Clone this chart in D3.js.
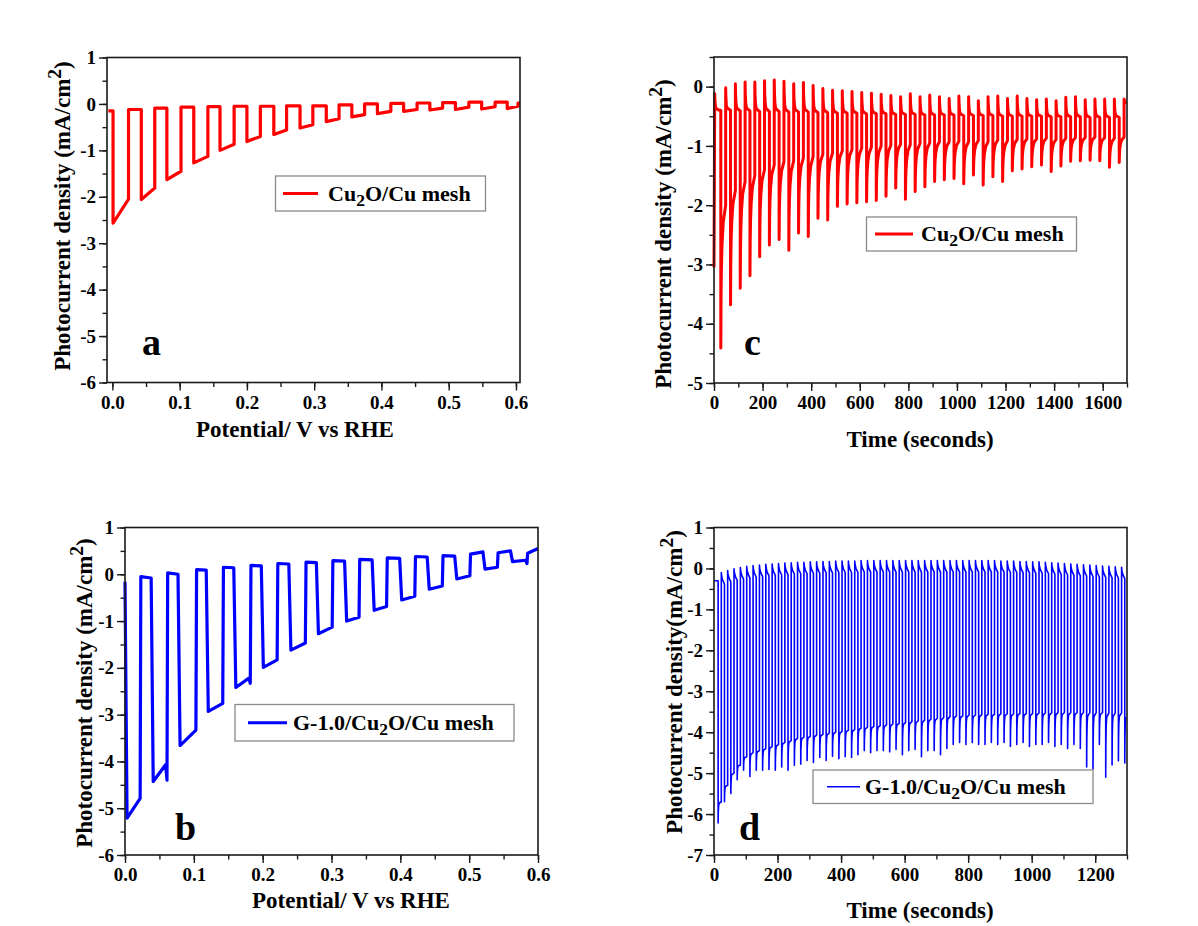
<!DOCTYPE html>
<meta charset="utf-8">
<style>
body { margin: 0; background: #fff; }
svg text { font-family: "Liberation Serif", "Times New Roman", serif; font-weight: bold; fill: #000; }
.tick text { font-size: 19px; }
.tick line { stroke: #1a1a1a; stroke-width: 1.4px; }
.frame { fill: none; stroke: #1a1a1a; stroke-width: 1.6px; }
.legend-box { fill: #fff; stroke: #8a8a8a; stroke-width: 1.3px; }
.title { font-size: 23px; }
.letter { font-size: 38px; }
.legend-text { font-size: 22px; }
</style>
<svg width="1198" height="926"></svg>
<script src="https://d3js.org/d3.v7.min.js"></script>
<script>
// ---- panel a : Cu2O/Cu mesh, chopped LSV ----
var aRange = [-0.006, 0.606];
var aOnV = [0.001, 0.043, 0.081, 0.121, 0.160, 0.200, 0.240, 0.279, 0.318, 0.356, 0.394, 0.433, 0.472, 0.510, 0.549, 0.587];
var aOffV = [0.024, 0.063, 0.102, 0.142, 0.181, 0.220, 0.259, 0.298, 0.337, 0.375, 0.414, 0.453, 0.491, 0.530, 0.569, 0.603];
var aOnStart = [-2.57, -2.06, -1.63, -1.27, -1.00, -0.81, -0.66, -0.52, -0.38, -0.28, -0.21, -0.16, -0.13, -0.12, -0.11, -0.10];
var aOnEnd = [-2.05, -1.81, -1.45, -1.13, -0.87, -0.70, -0.56, -0.45, -0.32, -0.23, -0.16, -0.12, -0.09, -0.07, -0.06, -0.05];
var aDark = [-0.15, -0.12, -0.09, -0.07, -0.06, -0.05, -0.05, -0.04, -0.04, -0.02, 0.00, 0.01, 0.02, 0.03, 0.04, 0.04, 0.02];

// ---- panel b : G-1.0/Cu2O/Cu mesh, chopped LSV ----
var bRange = [0, 0.6];
var bOnV = [0.003, 0.041, 0.080, 0.121, 0.161, 0.201, 0.241, 0.281, 0.322, 0.362, 0.402, 0.442, 0.482, 0.523, 0.563];
var bOffV = [0.022, 0.061, 0.103, 0.142, 0.182, 0.221, 0.262, 0.301, 0.340, 0.380, 0.421, 0.461, 0.501, 0.541, 0.584];
var bOnStart = [-5.21, -4.43, -3.66, -2.93, -2.42, -1.99, -1.62, -1.27, -1.00, -0.77, -0.55, -0.32, -0.10, 0.11, 0.27];
var bOnEnd = [-4.79, -4.07, -3.33, -2.76, -2.22, -1.83, -1.47, -1.13, -0.92, -0.69, -0.47, -0.25, -0.03, 0.15, 0.30];
var bSpike = [null, -4.40, null, null, -2.33, null, null, null, null, null, null, null, null, null, 0.23];
var bDarkStart = [-0.16, -0.05, 0.03, 0.10, 0.15, 0.19, 0.23, 0.26, 0.29, 0.32, 0.35, 0.38, 0.40, 0.43, 0.46, 0.45];
var bDarkEnd = [-0.16, -0.08, 0.00, 0.09, 0.14, 0.18, 0.22, 0.25, 0.28, 0.31, 0.34, 0.37, 0.39, 0.48, 0.50, 0.55];

// ---- panel c : Cu2O/Cu mesh, chopped i-t ----
var cFirstOn = 28, cPeriod = 40, cOnLength = 20, cEndT = 1694, cEndV = -0.30;
var cInit = [[0, -3.05], [3, -0.12]];
var cSpike = [-4.41, -3.68, -3.40, -3.19, -2.87, -2.67, -2.58, -2.76, -2.47, -2.53,
  -2.22, -2.25, -2.02, -1.98, -1.96, -1.94, -1.92, -1.85, -1.71, -1.90,
  -1.77, -1.69, -1.60, -1.57, -1.55, -1.64, -1.49, -1.66, -1.52, -1.60,
  -1.42, -1.39, -1.35, -1.32, -1.43, -1.34, -1.26, -1.25, -1.24, -1.25,
  -1.36, -1.28];
var cLight = [-2.00, -1.75, -1.60, -1.50, -1.40, -1.32, -1.27, -1.25, -1.20, -1.18,
  -1.14, -1.12, -1.08, -1.06, -1.04, -1.02, -1.00, -0.99, -0.97, -0.98,
  -0.96, -0.95, -0.93, -0.93, -0.92, -0.93, -0.91, -0.93, -0.90, -0.91,
  -0.89, -0.88, -0.88, -0.87, -0.89, -0.87, -0.86, -0.86, -0.85, -0.86,
  -0.87, -0.85];
var cPeak = [-0.02, 0.05, 0.08, 0.08, 0.10, 0.11, 0.09, 0.05, 0.07, 0.02,
  -0.03, -0.06, -0.07, -0.08, -0.10, -0.11, -0.13, -0.15, -0.17, -0.12,
  -0.17, -0.14, -0.17, -0.20, -0.16, -0.17, -0.24, -0.17, -0.16, -0.20,
  -0.16, -0.20, -0.22, -0.21, -0.24, -0.18, -0.17, -0.22, -0.21, -0.21,
  -0.21, -0.21];
var cDark = [-0.40, -0.40, -0.41, -0.41, -0.42, -0.42, -0.42, -0.43, -0.43, -0.43,
  -0.44, -0.44, -0.45, -0.45, -0.45, -0.46, -0.46, -0.46, -0.47, -0.47,
  -0.47, -0.48, -0.48, -0.48, -0.48, -0.49, -0.49, -0.49, -0.49, -0.50,
  -0.50, -0.50, -0.50, -0.50, -0.51, -0.51, -0.51, -0.51, -0.52, -0.52,
  -0.52, -0.52];
// transient shapes (seconds after switching, fraction of the step)
var cLightT = [0, 1, 2.5, 5, 10, 20], cLightF = [0, 0.35, 0.55, 0.72, 0.88, 1];
var cDarkT = [0, 1, 3, 6, 20], cDarkF = [0, 0.45, 0.75, 0.9, 1];

// ---- panel d : G-1.0/Cu2O/Cu mesh, chopped i-t ----
var dFirstOn = 13, dPeriod = 20, dOnLength = 10, dEndT = 1300, dInitLevel = -0.30;
var dSpike = [-6.22, -5.70, -5.50, -5.16, -4.93, -5.08, -4.93, -4.93, -4.91, -4.93,
  -4.85, -4.93, -4.81, -4.78, -4.69, -4.74, -4.62, -4.69, -4.59, -4.65,
  -4.60, -4.62, -4.55, -4.45, -4.50, -4.45, -4.45, -4.48, -4.42, -4.55,
  -4.45, -4.42, -4.60, -4.45, -4.45, -4.55, -4.40, -4.30, -4.25, -4.30,
  -4.25, -4.30, -4.30, -4.25, -4.30, -4.25, -4.35, -4.30, -4.25, -4.35,
  -4.30, -4.30, -4.25, -4.35, -4.30, -4.40, -4.30, -4.40, -4.85, -4.90,
  -4.30, -5.10, -4.80, -4.70, -4.75];
var dLight = [-5.70, -5.30, -5.00, -4.80, -4.60, -4.50, -4.45, -4.40, -4.35, -4.30,
  -4.25, -4.20, -4.15, -4.12, -4.10, -4.07, -4.05, -4.02, -4.00, -3.98,
  -3.95, -3.93, -3.90, -3.88, -3.86, -3.84, -3.82, -3.80, -3.78, -3.76,
  -3.74, -3.72, -3.70, -3.68, -3.66, -3.64, -3.62, -3.60, -3.60, -3.58,
  -3.58, -3.57, -3.56, -3.56, -3.55, -3.55, -3.55, -3.54, -3.54, -3.54,
  -3.53, -3.53, -3.53, -3.52, -3.52, -3.52, -3.52, -3.52, -3.52, -3.52,
  -3.52, -3.53, -3.53, -3.53, -3.54];
var dPeak = [-0.10, -0.05, -0.01, 0.02, 0.05, 0.07, 0.08, 0.10, 0.11, 0.12,
  0.13, 0.14, 0.15, 0.15, 0.16, 0.16, 0.17, 0.17, 0.18, 0.18,
  0.18, 0.18, 0.19, 0.19, 0.19, 0.19, 0.19, 0.19, 0.19, 0.19,
  0.19, 0.19, 0.19, 0.19, 0.19, 0.19, 0.19, 0.19, 0.19, 0.19,
  0.19, 0.19, 0.19, 0.19, 0.18, 0.18, 0.18, 0.17, 0.17, 0.16,
  0.16, 0.15, 0.14, 0.13, 0.12, 0.11, 0.10, 0.09, 0.08, 0.07,
  0.06, 0.05, 0.04, 0.03, 0.02];
var dDark = [-0.30, -0.38, -0.33, -0.29, -0.26, -0.23, -0.21, -0.20, -0.18, -0.17,
  -0.16, -0.15, -0.14, -0.13, -0.13, -0.12, -0.12, -0.11, -0.11, -0.10,
  -0.10, -0.10, -0.10, -0.09, -0.09, -0.09, -0.09, -0.09, -0.09, -0.09,
  -0.09, -0.09, -0.09, -0.09, -0.09, -0.09, -0.09, -0.09, -0.09, -0.09,
  -0.09, -0.09, -0.09, -0.09, -0.09, -0.09, -0.10, -0.10, -0.11, -0.11,
  -0.12, -0.12, -0.13, -0.14, -0.15, -0.16, -0.17, -0.18, -0.19, -0.20,
  -0.21, -0.22, -0.23, -0.24, -0.25];
var dLightT = [0, 0.5, 1.5, 3, 10], dLightF = [0, 0.5, 0.8, 0.93, 1];
var dDarkT = [0, 1, 4, 10], dDarkF = [0, 0.3, 0.65, 1];

var svg = d3.select("svg");

function seq(a, b, s) { return d3.range(Math.round((b - a) / s) + 1).map(function(i) { return +(a + i * s).toFixed(3); }); }

// shaped step from v0 to v1 starting at t0
function pushStep(pts, t0, v0, v1, ts, fs, tMax) {
  for (var j = 0; j < ts.length; j++) {
    if (t0 + ts[j] > tMax) break;
    pts.push([t0 + ts[j], v0 + fs[j] * (v1 - v0)]);
  }
}

// build traces
var aPts = [[aRange[0], aDark[0]]];
for (var i = 0; i < aOnV.length; i++) {
  aPts.push([aOnV[i], aDark[i]], [aOnV[i], aOnStart[i]], [aOffV[i], aOnEnd[i]], [aOffV[i], aDark[i + 1]]);
}
aPts.push([aRange[1], aDark[aDark.length - 1]]);

var bPts = [[bRange[0], bDarkStart[0]]];
for (var i = 0; i < bOnV.length; i++) {
  if (i > 0) bPts.push([bOnV[i] - 0.003, bDarkEnd[i]]);
  bPts.push([bOnV[i], bOnStart[i]]);
  if (bSpike[i] != null) {
    bPts.push([bOffV[i] - 0.002, bOnEnd[i]], [bOffV[i], bSpike[i]]);
  } else {
    bPts.push([bOffV[i], bOnEnd[i]]);
  }
  bPts.push([bOffV[i] + 0.001, bDarkStart[i + 1]]);
}
bPts.push([bRange[1], bDarkEnd[bDarkEnd.length - 1]]);

var cPts = cInit.slice();
pushStep(cPts, cInit[1][0], cInit[1][1], cDark[0], cDarkT, cDarkF, cFirstOn);
for (var k = 0; k < cSpike.length; k++) {
  var tOn = cFirstOn + k * cPeriod, tOff = tOn + cOnLength;
  cPts.push([tOn, cDark[k]]);
  pushStep(cPts, tOn, cSpike[k], cLight[k], cLightT, cLightF, cEndT);
  if (k + 1 < cSpike.length) {
    pushStep(cPts, tOff, cPeak[k], cDark[k + 1], cDarkT, cDarkF, cEndT);
  } else {
    cPts.push([tOff, cPeak[k]], [cEndT, cEndV]);
  }
}

var dPts = [[0, dInitLevel]];
for (var k = 0; k < dSpike.length; k++) {
  var tOn = dFirstOn + k * dPeriod, tOff = tOn + dOnLength;
  dPts.push([tOn, dDark[k]]);
  pushStep(dPts, tOn, dSpike[k], dLight[k], dLightT, dLightF, dEndT);
  if (tOff < dEndT && k + 1 < dSpike.length) {
    pushStep(dPts, tOff, dPeak[k], dDark[k + 1], dDarkT, dDarkF, dEndT);
  }
}

var panels = [
  { left: 107, right: 520, top: 57.5, bottom: 382.5,
    xDomain: [-0.008, 0.606], yDomain: [-6, 1],
    xTicks: seq(0, 0.6, 0.1), xMinor: seq(0, 0.6, 0.05), xFmt: d3.format(".1f"),
    yTicks: seq(-6, 1, 1), yMinor: seq(-6, 1, 0.5),
    pts: aPts, color: "#ff0000", width: 3.2,
    xTitle: "Potential/ V vs RHE", xTitleX: 295, xTitleY: 437,
    yTitle: "Photocurrent density (mA/cm", yTitleX: 70, yTitleY: 216,
    letter: "a", letterX: 142, letterY: 355,
    legend: { x: 275.5, y: 176, w: 210, h: 35, lx1: 283, lx2: 318, tx: 328,
      parts: ["Cu", "2", "O/Cu mesh"] } },
  { left: 125, right: 538, top: 527.5, bottom: 855,
    xDomain: [0, 0.6], yDomain: [-6, 1],
    xTicks: seq(0, 0.6, 0.1), xMinor: seq(0, 0.6, 0.05), xFmt: d3.format(".1f"),
    yTicks: seq(-6, 1, 1), yMinor: seq(-6, 1, 0.5),
    pts: bPts, color: "#0000ff", width: 3.2,
    xTitle: "Potential/ V vs RHE", xTitleX: 351, xTitleY: 908,
    yTitle: "Photocurrent density (mA/cm", yTitleX: 92, yTitleY: 693,
    letter: "b", letterX: 175, letterY: 840,
    legend: { x: 235, y: 704.5, w: 279, h: 36.5, lx1: 248, lx2: 287, tx: 293,
      parts: ["G-1.0/Cu", "2", "O/Cu mesh"] } },
  { left: 714, right: 1127, top: 57, bottom: 383,
    xDomain: [0, 1700], yDomain: [-5, 0.5],
    xTicks: seq(0, 1600, 200), xMinor: seq(0, 1700, 100), xFmt: d3.format("d"),
    yTicks: seq(-5, 0, 1), yMinor: seq(-5, 0.5, 0.5),
    pts: cPts, color: "#ff0000", width: 3,
    xTitle: "Time (seconds)", xTitleX: 920, xTitleY: 447,
    yTitle: "Photocurrent density (mA/cm", yTitleX: 671, yTitleY: 234,
    letter: "c", letterX: 744, letterY: 355,
    legend: { x: 866.5, y: 217, w: 210, h: 34, lx1: 875, lx2: 913, tx: 921,
      parts: ["Cu", "2", "O/Cu mesh"] } },
  { left: 714, right: 1127, top: 527.5, bottom: 855,
    xDomain: [0, 1300], yDomain: [-7, 1],
    xTicks: seq(0, 1200, 200), xMinor: seq(0, 1300, 100), xFmt: d3.format("d"),
    yTicks: seq(-7, 1, 1), yMinor: seq(-7, 1, 0.5),
    pts: dPts, color: "#0000ff", width: 1.6,
    xTitle: "Time (seconds)", xTitleX: 920, xTitleY: 918,
    yTitle: "Photocurrent density(mA/cm", yTitleX: 682, yTitleY: 682,
    letter: "d", letterX: 739, letterY: 840,
    legend: { x: 813, y: 770, w: 280, h: 33.5, lx1: 827, lx2: 860, tx: 865,
      parts: ["G-1.0/Cu", "2", "O/Cu mesh"] } }
];

panels.forEach(function(p) {
  var x = d3.scaleLinear().domain(p.xDomain).range([p.left, p.right]);
  var y = d3.scaleLinear().domain(p.yDomain).range([p.bottom, p.top]);
  var g = svg.append("g");

  // minor and major ticks, outward
  g.append("g").attr("transform", "translate(0," + p.bottom + ")")
    .call(d3.axisBottom(x).tickValues(p.xMinor).tickSize(4.5).tickFormat(""));
  g.append("g").attr("transform", "translate(0," + p.bottom + ")")
    .call(d3.axisBottom(x).tickValues(p.xTicks).tickSize(8).tickPadding(5).tickFormat(p.xFmt));
  g.append("g").attr("transform", "translate(" + p.left + ",0)")
    .call(d3.axisLeft(y).tickValues(p.yMinor).tickSize(4.5).tickFormat(""));
  g.append("g").attr("transform", "translate(" + p.left + ",0)")
    .call(d3.axisLeft(y).tickValues(p.yTicks).tickSize(8).tickPadding(3).tickFormat(function(d) { return String(d); }));
  g.selectAll(".domain").remove();

  var line = d3.line().x(function(d) { return x(d[0]); }).y(function(d) { return y(d[1]); });
  g.append("path")
    .datum(p.pts)
    .attr("d", line)
    .attr("fill", "none")
    .attr("stroke", p.color)
    .attr("stroke-width", p.width)
    .attr("stroke-linejoin", "round");

  g.append("rect").attr("class", "frame")
    .attr("x", p.left).attr("y", p.top)
    .attr("width", p.right - p.left).attr("height", p.bottom - p.top);

  // legend
  var L = p.legend;
  g.append("rect").attr("class", "legend-box")
    .attr("x", L.x).attr("y", L.y).attr("width", L.w).attr("height", L.h);
  g.append("line")
    .attr("x1", L.lx1).attr("x2", L.lx2)
    .attr("y1", L.y + L.h / 2).attr("y2", L.y + L.h / 2)
    .attr("stroke", p.color).attr("stroke-width", p.width);
  var lt = g.append("text").attr("class", "legend-text")
    .attr("x", L.tx).attr("y", L.y + L.h / 2 + 7);
  lt.append("tspan").text(L.parts[0]);
  lt.append("tspan").attr("font-size", "80%").attr("dy", 5).text(L.parts[1]);
  lt.append("tspan").attr("dy", -5).text(L.parts[2]);

  // axis titles
  g.append("text").attr("class", "title")
    .attr("x", p.xTitleX).attr("y", p.xTitleY)
    .attr("text-anchor", "middle").text(p.xTitle);
  var yt = g.append("text").attr("class", "title")
    .attr("text-anchor", "middle")
    .attr("transform", "translate(" + p.yTitleX + "," + p.yTitleY + ") rotate(-90)");
  yt.append("tspan").text(p.yTitle);
  yt.append("tspan").attr("font-size", "85%").attr("dy", -9).text("2");
  yt.append("tspan").attr("dy", 9).text(")");

  g.append("text").attr("class", "letter")
    .attr("x", p.letterX).attr("y", p.letterY).text(p.letter);
});
</script>
